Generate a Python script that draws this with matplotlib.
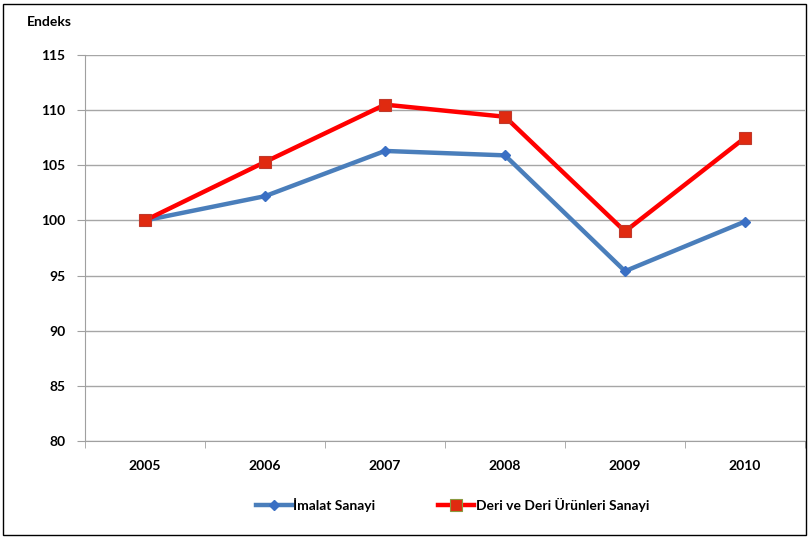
import matplotlib.pyplot as plt
from matplotlib.patches import Rectangle
from matplotlib.lines import Line2D

plt.rcParams['font.family'] = ['Lato', 'DejaVu Sans']
plt.rcParams['font.weight'] = 'bold'

years = ['2005', '2006', '2007', '2008', '2009', '2010']
imalat = [100.0, 102.2, 106.3, 105.9, 95.4, 99.9]
deri = [100.0, 105.3, 110.5, 109.4, 99.0, 107.5]

fig = plt.figure(figsize=(8.08, 5.37), dpi=100)
ax = fig.add_axes([85 / 808, 96 / 537, 720 / 808, 386 / 537])

x = list(range(len(years)))
ax.plot(x, imalat, color='#4a7ebb', lw=3.2, marker='D', ms=5,
        mfc='#3a6fc4', mec='#3a6fc4', zorder=3)
ax.plot(x, deri, color='#ff0000', lw=3.2, marker='s', ms=8,
        mfc='#e02a10', mec='#c0392b', mew=0.8, zorder=4)

ax.set_xlim(-0.5, len(years) - 0.5)
ax.set_ylim(80, 115)
ax.set_yticks(range(80, 116, 5))
ax.set_xticks(x)
ax.set_xticklabels(years, fontsize=10, fontweight='bold')
ax.set_xticks([i - 0.5 for i in range(len(years) + 1)], minor=True)
ax.tick_params(axis='x', which='major', length=0, pad=14)
ax.tick_params(axis='x', which='minor', length=5, color='#a0a0a0', direction='out')
ax.tick_params(axis='y', length=6, color='#a0a0a0', pad=8, labelsize=10)
for t in ax.get_yticklabels():
    t.set_fontweight('bold')

ax.grid(axis='y', color='#a6a6a6', lw=1)
ax.set_axisbelow(True)
for s in ['top', 'right']:
    ax.spines[s].set_visible(False)
for s in ['left', 'bottom']:
    ax.spines[s].set_color('#a0a0a0')

fig.text(27 / 808, 1 - 22 / 537, 'Endeks', fontsize=10, fontweight='bold', va='center')

h1 = Line2D([], [], color='#4a7ebb', lw=3.2, marker='D', ms=5, mfc='#3a6fc4', mec='#3a6fc4')
h2 = Line2D([], [], color='#ff0000', lw=3.2, marker='s', ms=8, mfc='#e02a10', mec='#8a9a40', mew=0.8)
fig.legend([h1, h2], ['İmalat Sanayi', 'Deri ve Deri Ürünleri Sanayi'],
           loc='center', bbox_to_anchor=(0.56, 1 - 505 / 537), ncol=2,
           frameon=False, fontsize=10, handlelength=2.6, handletextpad=0.1,
           columnspacing=4.5, prop={'weight': 'bold', 'size': 10})

fig.patches.append(Rectangle((3 / 808, 2 / 537), 803 / 808, 531 / 537,
                             transform=fig.transFigure, fill=False,
                             edgecolor='black', lw=1))

fig.savefig('out.png', dpi=100)
